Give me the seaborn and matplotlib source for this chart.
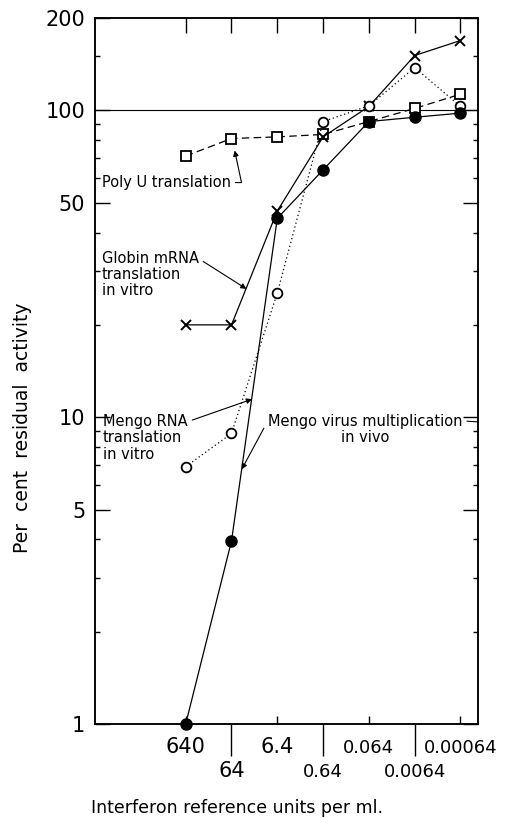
import matplotlib
matplotlib.use("Agg")
import matplotlib.pyplot as plt
import matplotlib.ticker as mticker
import seaborn as sns

# ---- data ----
doses = [640, 64, 6.4, 0.64, 0.064, 0.0064, 0.00064]
upper_doses = [640, 6.4, 0.064, 0.00064]
upper_labels = ["640", "6.4", "0.064", "0.00064"]
lower_doses = [64, 0.64, 0.0064]
lower_labels = ["64", "0.64", "0.0064"]

poly_u = [71, 81, 82, 83.5, 92, 101.5, 113]
globin = [20, 20, 47, 82, 103, 151, 169]
mengo_rna = [6.9, 8.85, 25.4, 92, 103.5, 138, 103]
mengo_virus = [1.0, 3.95, 44.5, 64, 92, 95, 98]

y_major = [1, 5, 10, 50, 100, 200]
y_major_labels = ["1", "5", "10", "50", "100", "200"]
y_minor = [2, 3, 4, 6, 7, 8, 9, 20, 30, 40, 60, 70, 80, 90, 150]

sns.set_style("ticks")
plt.rcParams["font.family"] = ["DejaVu Sans"]
plt.rcParams.update({"text.color": "black", "axes.labelcolor": "black",
                     "xtick.color": "black", "ytick.color": "black",
                     "axes.edgecolor": "black"})

fig = plt.figure(figsize=(5.15, 8.18), dpi=100)
ax = fig.add_axes([0.1845, 0.1149, 0.7437, 0.863])
ax.set_xscale("log")
ax.set_yscale("log")
ax.set_xlim(61100, 0.000265)
ax.set_ylim(1, 200)

ax.axhline(100, color="black", lw=0.8, zorder=1)

common = dict(ax=ax, color="black", lw=0.9, sort=False, legend=False)
sns.lineplot(x=doses, y=poly_u, marker="s", markersize=7, markerfacecolor="white",
             markeredgecolor="black", markeredgewidth=1.3, linestyle=(0, (6, 3.5)),
             clip_on=False, zorder=3, **common)
sns.lineplot(x=doses, y=globin, marker="x", markersize=7, markeredgecolor="black",
             markeredgewidth=1.4, linestyle="-", clip_on=False, zorder=4, **common)
sns.lineplot(x=doses, y=mengo_rna, marker="o", markersize=7, markerfacecolor="white",
             markeredgecolor="black", markeredgewidth=1.3, linestyle=(0, (1, 2.2)),
             clip_on=False, zorder=4, **common)
sns.lineplot(x=doses, y=mengo_virus, marker="o", markersize=8, markerfacecolor="black",
             markeredgecolor="black", markeredgewidth=1.0, linestyle="-",
             clip_on=False, zorder=5, **common)

# ---- y axis ----
ax.yaxis.set_major_locator(mticker.FixedLocator(y_major))
ax.yaxis.set_major_formatter(mticker.FixedFormatter(y_major_labels))
ax.yaxis.set_minor_locator(mticker.FixedLocator(y_minor))
ax.yaxis.set_minor_formatter(mticker.NullFormatter())
ax.tick_params(axis="y", which="major", direction="in", length=10.5, width=1,
               left=True, right=True, labelsize=15, pad=7)
ax.tick_params(axis="y", which="minor", direction="in", length=3.8, width=1,
               left=True, right=True)

# ---- x axis ----
ax.xaxis.set_major_locator(mticker.FixedLocator(upper_doses))
ax.xaxis.set_major_formatter(mticker.FixedFormatter(upper_labels))
ax.xaxis.set_minor_locator(mticker.FixedLocator(lower_doses))
ax.xaxis.set_minor_formatter(mticker.FixedFormatter(lower_labels))
ax.tick_params(axis="x", which="major", direction="in", length=6, width=1,
               labelsize=15, pad=21, top=False)
ax.tick_params(axis="x", which="minor", direction="out", length=23, width=1,
               labelsize=15, pad=15.5, top=False)
fig.canvas.draw()
for t in ax.get_xticklabels(which="both"):
    t.set_verticalalignment("baseline")
    if t.get_text().startswith("0."):
        t.set_fontsize(13)

ax2 = ax.twiny()
ax2.set_xscale("log")
ax2.set_xlim(ax.get_xlim())
ax2.xaxis.set_major_locator(mticker.FixedLocator(doses))
ax2.xaxis.set_minor_locator(mticker.NullLocator())
ax2.set_xticklabels([])
ax2.tick_params(axis="x", which="major", direction="in", length=11, width=1,
                top=True, bottom=False)

for a in (ax, ax2):
    for s in a.spines.values():
        s.set_linewidth(1.1)
        s.set_color("black")

ax.set_xlabel("Interferon reference units per ml.", fontsize=12.5)
ax.xaxis.set_label_coords(0.372, -0.106)
ax.set_ylabel("Per  cent  residual  activity", fontsize=13.5)
ax.yaxis.set_label_coords(-0.165, 0.42)

# ---- annotations ----
afs = 10.5
ax.annotate("Poly U translation", xy=(54.5, 74), xycoords="data",
            xytext=(0.0175, 0.767), textcoords="axes fraction",
            ha="left", va="center", fontsize=afs,
            arrowprops=dict(arrowstyle="-|>", color="black", lw=0.8,
                            shrinkA=1, shrinkB=0, relpos=(1, 0.5),
                            mutation_scale=8,
                            connectionstyle="angle,angleA=0,angleB=102,rad=0"))
ax.annotate("Globin mRNA\ntranslation\nin vitro", xy=(30.2, 26.2), xycoords="data",
            xytext=(0.0175, 0.670), textcoords="axes fraction",
            ha="left", va="top", fontsize=afs, linespacing=1.1,
            arrowprops=dict(arrowstyle="-|>", color="black", lw=0.8,
                            shrinkA=1, shrinkB=0, relpos=(1, 0.84),
                            mutation_scale=8))
ax.annotate("Mengo RNA\ntranslation\nin vitro", xy=(22.8, 11.45), xycoords="data",
            xytext=(0.021, 0.439), textcoords="axes fraction",
            ha="left", va="top", fontsize=afs, linespacing=1.1,
            arrowprops=dict(arrowstyle="-|>", color="black", lw=0.8,
                            shrinkA=1, shrinkB=0, relpos=(1, 0.84),
                            mutation_scale=8))
ax.annotate("Mengo virus multiplication\nin vivo", xy=(38.3, 6.76), xycoords="data",
            xytext=(0.705, 0.4395), textcoords="axes fraction",
            ha="center", va="top", multialignment="center", fontsize=afs,
            linespacing=1.1,
            arrowprops=dict(arrowstyle="-|>", color="black", lw=0.8,
                            shrinkA=1, shrinkB=0, relpos=(0, 0.77),
                            mutation_scale=8))
ax.annotate("Mengo virus multiplication\nin vivo", xy=(1.0, 0.428), xycoords="axes fraction",
            xytext=(0.705, 0.4395), textcoords="axes fraction",
            ha="center", va="top", multialignment="center", fontsize=afs,
            linespacing=1.1, color="none",
            arrowprops=dict(arrowstyle="-", color="black", lw=0.8,
                            shrinkA=1, shrinkB=0, relpos=(1, 0.77)))

fig.savefig("out.png", dpi=100)
